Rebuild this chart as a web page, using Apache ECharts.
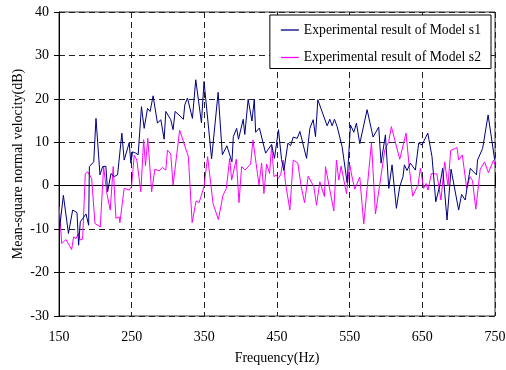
<!DOCTYPE html>
<html>
<head>
<meta charset="utf-8">
<script src="https://cdn.jsdelivr.net/npm/echarts@6/dist/echarts.min.js"></script>
<style>
  html, body { margin: 0; padding: 0; background: #fff; }
  #main { width: 506px; height: 370px; }
</style>
</head>
<body>
<div id="main"></div>
<script>
var freqS1 = [150.5, 156, 163, 168.8, 174.8, 177, 179.3, 187.2, 190.8, 191.8, 197.8, 200.9, 206.4, 210, 214.5, 216.9,
  221.5, 226, 230.6, 236.5, 239.7, 246.6, 248.9, 251.2, 255.7, 258.9, 263.5, 267.2, 271.8, 275.4, 279.5, 285.5,
  290.1, 294.7, 297, 303.8, 307, 309.8, 321.2, 323.1, 326.8, 333.6, 338.2, 346, 349.6, 360, 369, 374.8, 381, 388,
  389.9, 394.5, 397, 403.5, 405.7, 410.3, 415.5, 418.8, 420.6, 425.8, 434.3, 442.6, 446.5, 452, 456.3, 459.5, 465,
  468.7, 472.3, 477.8, 481.5, 490.7, 495.2, 499.8, 503, 506.2, 519, 522.7, 525.9, 529.1, 532.8, 539.6, 546.5, 551.1,
  555.7, 559.3, 563.9, 574, 582.2, 590, 593.2, 599.2, 603.8, 608.3, 614.3, 618.9, 623.4, 625.3, 628.9, 633.5, 640.4,
  645, 649.5, 657.5, 663.3, 668.5, 673.8, 678, 684, 689.5, 700, 704, 709, 711.5, 716, 724.5, 726, 733, 740.5, 749.5];
var valS1 = [-10.2, -2.2, -11, -5.6, -6.2, -13.7, -8.3, -6.5, -9.1, 4.4, 5.5, 15.5, 2.5, 4.4, 4.5, -1.4,
  2.8, 2.1, 2.5, 12.1, 5.9, 9.9, 5.2, 7.8, 7.5, 7.1, 18.2, 13.2, 17.8, 17.1, 20.7, 14.4,
  15.2, 10.7, 17.1, 15.2, 12.9, 17.1, 15.3, 18.6, 20.2, 15.5, 24.4, 14.5, 24, 6.2, 21.5, 7.1, 9.2, 5.5,
  11.3, 13.2, 10.7, 15.3, 11.8, 19.9, 14.9, 19.9, 12.3, 13.3, 7.5, 9.5, 6.3, 12.9, 6, 3.5, 9.8,
  9.2, 11.2, 10.9, 12.5, 6.3, 13.2, 15.2, 11.3, 19.8, 13.8, 15.3, 13.8, 15.3, 13.6, 9, 0.7, 14,
  12.3, 14.4, 9.7, 17.5, 11.2, 13.5, 5.2, 11.7, -0.6, 4.8, -5.2, -0.2, 2.1, 4.8, 3.5, 5.2, 3.6,
  9.8, 9.4, 12.1, 6.7, -3.7, -0.1, 4, -7.9, 3.8, -5.6, -2, -3.3, -0.5, 4, 2.5, 5.9, 8.6, 16.3, 6];

var freqS2 = [150.3, 153.7, 159.6, 167.4, 170.1, 173.4, 176.6, 179.3, 182.5, 186.2, 189.4, 194.9, 199.5, 206.8, 211.4,
  215.9, 220.5, 224.6, 228.3, 232.9, 233.8, 239.7, 246.6, 249.8, 253.5, 257.1, 262.6, 266.5, 269, 272.2, 277.5,
  281.9, 287.8, 292.4, 297, 299.3, 303.8, 307, 316, 328, 333.2, 338.7, 342.8, 349.6, 354.5, 362, 369.3, 375.7,
  380.3, 384.9, 387.6, 394, 397.7, 401.3, 405.9, 413.7, 416.9, 425.2, 428.8, 432, 435.7, 439.8, 442.6, 445.8, 449,
  451.7, 455, 458.5, 461.8, 467.7, 472.3, 478.7, 483.3, 487.9, 492.9, 500.7, 504.4, 508.9, 515.3, 516.7, 528.2,
  531.8, 535, 538.2, 545.6, 550.1, 553.3, 557, 563.9, 566.2, 569.4, 580, 585.5, 598.3, 603.8, 607.4, 618.9, 627.6,
  632.6, 636.8, 644.1, 647.3, 651.9, 655.1, 657.8, 662.4, 670, 675.6, 680.7, 685.3, 689, 697.7, 700, 705, 711, 715.6,
  719, 723.6, 729.7, 735.6, 741, 748, 750];
var valS2 = [-4.8, -13.3, -12.4, -14.7, -11.8, -12.2, -11, -12.5, -12.3, 2.8, 3.2, 1.7, -8.7, -9.5, 4.4,
  -1.8, -5.6, 4.4, -7.5, -7.2, -8.5, -0.6, -1, -0.2, 7, 5.9, -1.4, 10.6, 4.6, 10.9, -1.4,
  3.8, 3.4, 4.2, 3.6, 8.2, 7.3, 0.1, 12.8, 6.7, -8.5, -3.5, -3.9, -0.2, 6.7, -4.1, -7.8, -2.2,
  -0.6, 6.3, 1.3, 6.1, -3.9, 4.4, 3.6, 5, 10.5, 0.2, 5.2, -1.8, 5, 2.8, 9.4, 2.1, 2.5,
  1.7, 2.5, 5.9, 0.5, -5.6, 5.9, 5.2, -0.2, -3.9, 2.2, -0.2, -4.5, 0.9, -2.5, 4.4, -5.8,
  5.9, 1.3, 4.5, -1.8, 4.8, 2, -0.8, 2, 1.7, -8.8, 9.9, -6.5, 8.2, 10.2, 13.6, 6.1, 12.1,
  3.2, -2.4, 0.2, 4, -0.6, 0.5, -1, 2.8, 2.7, -3.3, 5.5, 0, 8.1, 8.8, 5.9, 7.1, -0.6, 2.1,
  1.2, -5.4, 3.8, 5.5, 3, 5.9, 4.7];

var xTicks = [150, 750, 100];
var yTicks = [-30, 40, 10];

function pairs(xs, ys) {
  return xs.map(function (x, i) { return [x, ys[i]]; });
}

var font = 'Liberation Serif';
var dashed = { show: true, lineStyle: { color: '#222', type: [6, 4], width: 1 } };

var myChart = echarts.init(document.getElementById('main'));
var option = {
  animation: false,
  backgroundColor: '#fff',
  grid: {
    left: 59, right: 11, top: 12, bottom: 54,
    outerBoundsMode: 'none',
    show: true, borderColor: '#333', borderWidth: 1
  },
  legend: {
    orient: 'vertical',
    right: 15, top: 15,
    padding: [7, 10, 3, 11],
    itemGap: 11.5,
    icon: 'rect',
    itemWidth: 18,
    itemHeight: 1.3,
    backgroundColor: '#fff',
    borderColor: '#000',
    borderWidth: 1,
    borderRadius: 0,
    textStyle: { fontFamily: font, fontSize: 13.7, lineHeight: 16, color: '#000' },
    data: ['Experimental result of Model s1', 'Experimental result of Model s2']
  },
  xAxis: {
    type: 'value',
    min: xTicks[0], max: xTicks[1], interval: xTicks[2],
    name: 'Frequency(Hz)',
    nameLocation: 'middle',
    nameGap: 35,
    nameTextStyle: { fontFamily: font, fontSize: 14, color: '#000' },
    axisLine: { lineStyle: { color: '#000', width: 1 } },
    axisTick: { inside: true, length: 11, lineStyle: { color: '#000' } },
    axisLabel: { margin: 14, fontFamily: font, fontSize: 14, color: '#000' },
    splitLine: dashed
  },
  yAxis: {
    type: 'value',
    min: yTicks[0], max: yTicks[1], interval: yTicks[2],
    name: 'Mean-square normal velocity(dB)',
    nameLocation: 'middle',
    nameGap: 34,
    nameMoveOverlap: false,
    nameTextStyle: { fontFamily: font, fontSize: 14, color: '#000' },
    axisLine: { show: true, lineStyle: { color: '#000', width: 1 } },
    axisTick: { show: true, length: 5, lineStyle: { color: '#000' } },
    axisLabel: { margin: 10, fontFamily: font, fontSize: 14, color: '#000' },
    splitLine: dashed
  },
  series: [
    {
      name: 'Experimental result of Model s1',
      type: 'line',
      symbol: 'none',
      color: '#000080',
      lineStyle: { width: 1 },
      z: 3,
      data: pairs(freqS1, valS1)
    },
    {
      name: 'Experimental result of Model s2',
      type: 'line',
      symbol: 'none',
      color: '#ff00ff',
      lineStyle: { width: 1 },
      z: 2,
      data: pairs(freqS2, valS2)
    }
  ]
};
myChart.setOption(option);
</script>
</body>
</html>
